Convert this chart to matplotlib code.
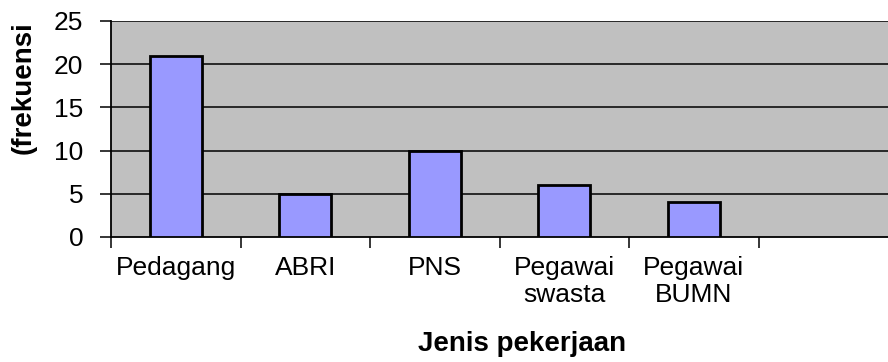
import matplotlib
matplotlib.use("Agg")
from matplotlib import pyplot as plt
import numpy as np

# Frequency of parents' occupations
categories = ["Pedagang", "ABRI", "PNS", "Pegawai\nswasta", "Pegawai\nBUMN", ""]
frequencies = [21, 5, 10, 6, 4, 0]
y_ticks = [0, 5, 10, 15, 20, 25]

plt.rcParams['font.family'] = ['Liberation Sans', 'DejaVu Sans']

fig = plt.figure(figsize=(8.88, 3.62), dpi=100)
ax = fig.add_axes([111 / 888, 125 / 362, 1 - 111 / 888, 216 / 362])
ax.set_facecolor('#c0c0c0')

x = np.arange(len(categories))
# The last slot stays empty, so only draw bars that have a value
shown = [i for i, v in enumerate(frequencies) if v > 0]
ax.bar(x[shown], [frequencies[i] for i in shown], width=0.4,
       color='#9999ff', edgecolor='black', linewidth=2, zorder=3)

ax.set_xlim(-0.5, len(categories) - 0.5)
ax.set_ylim(0, 25)

# Horizontal gridlines in black
for y in y_ticks[1:]:
    ax.axhline(y, color='black', lw=1.1, zorder=1)

ax.set_yticks(y_ticks)
ax.tick_params(axis='y', length=8, width=1.1, pad=12, labelsize=19, direction='out')

# Labels sit under the bars, tick marks sit between the categories
ax.set_xticks(x)
ax.set_xticklabels(categories, fontsize=19, linespacing=1.15)
ax.tick_params(axis='x', which='major', length=0, pad=14)
ax.set_xticks(np.arange(len(categories)) - 0.5, minor=True)
ax.tick_params(axis='x', which='minor', length=8, width=1.1, direction='out')

for side in ['top', 'right']:
    ax.spines[side].set_visible(False)
ax.spines['left'].set_linewidth(1.3)
ax.spines['bottom'].set_linewidth(1.3)

fig.text(522 / 888, 1 - 344 / 362, "Jenis pekerjaan", fontsize=20,
         fontweight='bold', ha='center', va='center')
fig.text(24 / 888, 1 - 88 / 362, "(frekuensi", fontsize=20,
         fontweight='bold', rotation=90, ha='center', va='center')

fig.savefig("out.png", dpi=100)
